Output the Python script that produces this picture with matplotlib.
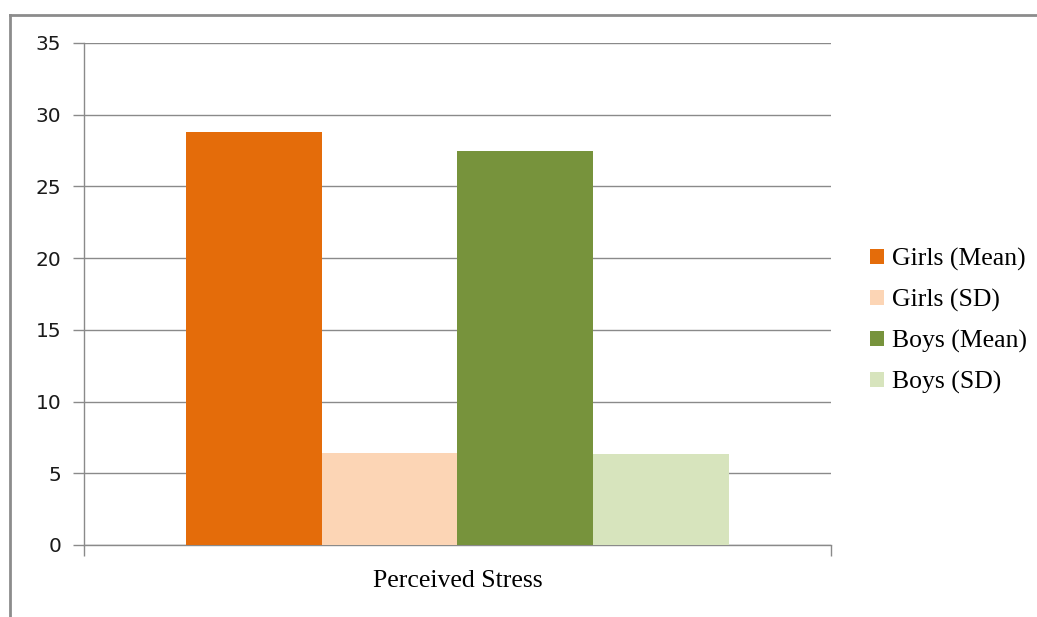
import matplotlib
matplotlib.use("Agg")
import matplotlib.pyplot as plt
from matplotlib.lines import Line2D

# Data
category = ["Perceived Stress"]
series_names = ["Girls (Mean)", "Girls (SD)", "Boys (Mean)", "Boys (SD)"]
values = [28.8, 6.4, 27.5, 6.35]
colors = ["#E46C0A", "#FCD5B5", "#77933C", "#D7E4BD"]
y_ticks = [0, 5, 10, 15, 20, 25, 30, 35]

W, H = 1037, 617
fig = plt.figure(figsize=(W / 100, H / 100), dpi=100)
ax = fig.add_axes([84 / W, 1 - 545 / H, (831 - 84) / W, (545 - 43) / H])

grid_color = "#8a8a8a"
group_width = 0.728
bar_w = group_width / len(values)
x0 = 0
for i, (name, v, c) in enumerate(zip(series_names, values, colors)):
    xpos = x0 - group_width / 2 + bar_w * (i + 0.5)
    ax.bar(xpos, v, width=bar_w, color=c, label=name, zorder=3, linewidth=0)

ax.set_xlim(-0.5, 0.5)
ax.set_ylim(0, 35)
ax.set_yticks(y_ticks)
ax.set_yticklabels([str(t) for t in y_ticks], fontsize=14.5, family="DejaVu Sans", color="#1a1a1a")
ax.yaxis.grid(True, color=grid_color, linewidth=1.0, zorder=0)
ax.tick_params(axis="y", length=8, width=1.0, color=grid_color, pad=8.5)
ax.set_xticks([-0.5, 0.5])
ax.set_xticklabels(["", ""])
ax.tick_params(axis="x", length=8, width=1.0, color=grid_color, direction="out")
ax.text(0, -0.05, category[0], transform=ax.get_xaxis_transform(),
        ha="center", va="top", fontsize=18.5, family="Liberation Serif", color="#000000")

for side in ["top", "right"]:
    ax.spines[side].set_visible(False)
for side in ["left", "bottom"]:
    ax.spines[side].set_color(grid_color)
    ax.spines[side].set_linewidth(1.0)

leg = fig.legend(loc="center left", bbox_to_anchor=(847 / W, 1 - 321 / H),
                 frameon=False, prop={"family": "Liberation Serif", "size": 18.5},
                 handlelength=0.55, handleheight=0.55, handletextpad=0.3,
                 labelspacing=0.7)
for t in leg.get_texts():
    t.set_color("#000000")

# outer chart frame
fig.add_artist(Line2D([10 / W, 1.0], [1 - 15 / H, 1 - 15 / H], transform=fig.transFigure,
                      color="#8c8c8c", linewidth=2))
fig.add_artist(Line2D([10 / W, 10 / W], [0, 1 - 15 / H], transform=fig.transFigure,
                      color="#8c8c8c", linewidth=2))

fig.savefig("out.png", dpi=100, facecolor="white")
